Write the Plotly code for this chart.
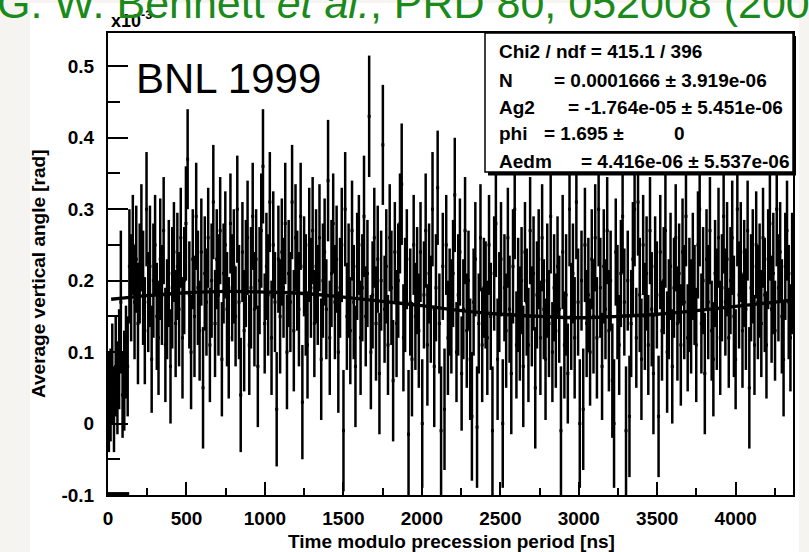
import plotly.graph_objects as go

# ---------------- data (units of 1e-3 rad, time in ns) ----------------
period_ns = 4365.0
n_bins = 400

angle = [
    0.03, 0.04, 0.07, 0.02, 0.08, 0.05, 0.09, 0.17, 0.04, 0.06, 0.10, 0.08, 0.22, 0.19, 0.25, 0.17, 0.23, 0.14, 0.21, 0.26,
    0.19, 0.13, 0.30, 0.17, 0.22, 0.09, 0.20, 0.25, 0.15, 0.12, 0.23, 0.18, 0.27, 0.11, 0.16, 0.21, 0.08, 0.19, 0.24, 0.14,
    0.22, 0.16, 0.26, 0.12, 0.20, 0.28, 0.37, 0.18, 0.10, 0.23, 0.15, 0.29, 0.19, 0.13, 0.24, 0.05, 0.21, 0.17, 0.26, 0.11,
    0.20, 0.31, 0.14, 0.23, 0.18, 0.27, 0.09, 0.21, 0.25, 0.16, 0.12, 0.28, 0.19, 0.22, 0.15, 0.30, 0.17, 0.04, 0.24, 0.13,
    0.21, 0.26, 0.11, 0.19, 0.29, 0.16, 0.23, 0.08, 0.20, 0.27, 0.36, 0.14, 0.22, 0.18, 0.31, 0.12, 0.25, 0.17, 0.02, 0.23,
    0.15, 0.24, 0.19, 0.28, 0.10, 0.21, 0.17, 0.31, 0.13, 0.26, 0.20, 0.16, 0.29, 0.03, 0.22, 0.18, 0.11, 0.25, 0.19, 0.27,
    0.14, 0.22, 0.18, 0.26, 0.09, 0.20, 0.24, 0.16, 0.34, 0.12, 0.21, 0.28, 0.17, 0.23, 0.10, 0.19, 0.25, -0.01, 0.30, 0.15,
    0.20, 0.13, 0.27, 0.17, 0.08, 0.22, 0.25, 0.12, 0.19, 0.29, 0.15, 0.21, 0.43, 0.10, 0.18, 0.26, 0.14, 0.23, 0.07, 0.20,
    0.39, 0.16, 0.22, 0.11, 0.26, 0.19, 0.06, 0.24, 0.14, 0.20, 0.28, 0.335, 0.12, 0.18, 0.23, -0.015, 0.17, 0.09, 0.25, 0.15,
    0.20, 0.13, 0.24, 0.00, 0.18, 0.27, 0.11, 0.21, 0.16, 0.30, 0.08, 0.19, 0.33, 0.14, -0.01, 0.22, 0.02, 0.25, 0.12, 0.17,
    0.15, 0.21, 0.32, 0.10, 0.18, 0.24, 0.07, 0.16, 0.27, 0.13, 0.20, 0.09, 0.01, 0.17, 0.23, -0.005, 0.14, 0.26, 0.11, 0.19,
    0.18, 0.12, 0.25, 0.15, -0.01, 0.21, 0.28, 0.09, 0.17, 0.23, 0.00, 0.19, 0.13, 0.26, 0.16, 0.07, 0.22, 0.30, 0.11, 0.18,
    0.14, 0.20, 0.08, 0.24, 0.17, 0.11, 0.27, 0.15, 0.21, 0.05, 0.18, 0.23, 0.12, 0.26, 0.16, 0.09, 0.20, 0.14, 0.29, 0.10,
    0.19, 0.13, 0.22, 0.16, -0.01, 0.24, 0.11, 0.18, 0.07, 0.30, 0.15, 0.21, 0.12, 0.31, 0.17, 0.00, 0.20, 0.02, 0.25, 0.14,
    0.18, 0.10, 0.23, 0.15, 0.26, 0.12, 0.30, 0.19, 0.08, 0.22, 0.16, 0.27, 0.13, 0.20, 0.06, 0.00, 0.24, 0.17, 0.11, 0.21,
    0.29, 0.17, -0.01, 0.20, 0.01, 0.14, 0.23, 0.30, 0.12, 0.31, 0.18, 0.09, 0.25, 0.15, 0.21, 0.11, 0.27, 0.16, 0.07, 0.22,
    0.18, 0.01, 0.24, 0.13, 0.20, 0.27, 0.10, 0.16, 0.22, 0.08, 0.19, 0.26, 0.14, 0.21, 0.11, 0.24, 0.17, 0.29, 0.12, 0.18,
    0.15, 0.22, 0.18, 0.11, 0.25, 0.30, 0.14, 0.20, 0.07, 0.23, 0.17, 0.27, 0.13, 0.09, 0.21, 0.16, 0.26, 0.12, 0.19, 0.29,
    0.17, 0.23, 0.12, 0.20, 0.26, 0.15, 0.09, 0.30, 0.18, 0.24, 0.13, 0.21, 0.16, 0.27, 0.05, 0.19, 0.22, 0.11, 0.25, 0.17,
    0.20, 0.14, 0.26, 0.18, 0.11, 0.23, 0.28, 0.16, 0.21, 0.13, 0.30, 0.19, 0.24, 0.15, 0.09, 0.22, 0.27, 0.17, 0.12, 0.21,
]

angle_err = [
    0.07, 0.065, 0.07, 0.06, 0.07, 0.065, 0.07, 0.10, 0.06, 0.07, 0.065, 0.07, 0.08, 0.075, 0.07, 0.08, 0.075, 0.085, 0.07, 0.075,
    0.08, 0.075, 0.08, 0.07, 0.085, 0.075, 0.08, 0.07, 0.075, 0.08, 0.085, 0.07, 0.075, 0.08, 0.07, 0.075, 0.08, 0.085, 0.07, 0.075,
    0.075, 0.08, 0.07, 0.085, 0.075, 0.08, 0.07, 0.075, 0.08, 0.07, 0.085, 0.075, 0.08, 0.07, 0.075, 0.085, 0.08, 0.075, 0.07, 0.08,
    0.08, 0.08, 0.075, 0.07, 0.085, 0.075, 0.08, 0.07, 0.075, 0.08, 0.085, 0.07, 0.075, 0.08, 0.07, 0.075, 0.08, 0.08, 0.07, 0.085,
    0.075, 0.08, 0.07, 0.085, 0.075, 0.08, 0.07, 0.085, 0.075, 0.08, 0.08, 0.07, 0.075, 0.085, 0.07, 0.08, 0.075, 0.07, 0.08, 0.075,
    0.08, 0.075, 0.07, 0.085, 0.08, 0.075, 0.07, 0.08, 0.085, 0.075, 0.07, 0.08, 0.075, 0.08, 0.07, 0.085, 0.075, 0.08, 0.07, 0.075,
    0.075, 0.08, 0.07, 0.075, 0.085, 0.08, 0.075, 0.07, 0.085, 0.08, 0.075, 0.07, 0.08, 0.075, 0.085, 0.07, 0.08, 0.085, 0.08, 0.075,
    0.08, 0.075, 0.07, 0.08, 0.085, 0.075, 0.07, 0.08, 0.075, 0.085, 0.07, 0.075, 0.085, 0.08, 0.075, 0.07, 0.08, 0.075, 0.085, 0.07,
    0.084, 0.075, 0.08, 0.07, 0.075, 0.08, 0.085, 0.07, 0.075, 0.08, 0.07, 0.085, 0.075, 0.08, 0.07, 0.09, 0.075, 0.08, 0.07, 0.075,
    0.075, 0.08, 0.07, 0.09, 0.075, 0.08, 0.085, 0.07, 0.075, 0.08, 0.085, 0.075, 0.08, 0.07, 0.09, 0.075, 0.085, 0.07, 0.08, 0.075,
    0.08, 0.075, 0.08, 0.07, 0.085, 0.075, 0.08, 0.07, 0.075, 0.08, 0.07, 0.085, 0.09, 0.075, 0.08, 0.085, 0.07, 0.075, 0.08, 0.07,
    0.075, 0.08, 0.07, 0.075, 0.09, 0.08, 0.075, 0.085, 0.07, 0.08, 0.09, 0.075, 0.08, 0.07, 0.075, 0.085, 0.08, 0.07, 0.075, 0.08,
    0.08, 0.075, 0.085, 0.07, 0.075, 0.08, 0.075, 0.07, 0.08, 0.085, 0.075, 0.07, 0.08, 0.075, 0.07, 0.085, 0.08, 0.075, 0.08, 0.07,
    0.075, 0.08, 0.07, 0.075, 0.09, 0.08, 0.075, 0.085, 0.07, 0.08, 0.075, 0.07, 0.085, 0.08, 0.075, 0.09, 0.07, 0.085, 0.08, 0.075,
    0.08, 0.075, 0.07, 0.08, 0.075, 0.085, 0.08, 0.07, 0.075, 0.08, 0.07, 0.075, 0.085, 0.07, 0.08, 0.09, 0.075, 0.08, 0.07, 0.075,
    0.08, 0.075, 0.09, 0.07, 0.085, 0.075, 0.08, 0.08, 0.07, 0.075, 0.08, 0.085, 0.07, 0.075, 0.08, 0.07, 0.075, 0.08, 0.085, 0.07,
    0.075, 0.085, 0.08, 0.07, 0.075, 0.08, 0.085, 0.07, 0.075, 0.08, 0.07, 0.075, 0.08, 0.07, 0.085, 0.075, 0.08, 0.07, 0.075, 0.08,
    0.08, 0.075, 0.07, 0.08, 0.075, 0.08, 0.07, 0.075, 0.085, 0.07, 0.08, 0.075, 0.07, 0.08, 0.075, 0.085, 0.07, 0.08, 0.075, 0.08,
    0.075, 0.08, 0.07, 0.075, 0.08, 0.085, 0.07, 0.08, 0.075, 0.07, 0.08, 0.075, 0.085, 0.07, 0.085, 0.075, 0.08, 0.07, 0.075, 0.08,
    0.08, 0.075, 0.07, 0.08, 0.075, 0.07, 0.08, 0.075, 0.085, 0.07, 0.08, 0.075, 0.07, 0.08, 0.08, 0.075, 0.07, 0.08, 0.075, 0.085,
]

# fitted curve
fit_t = [20, 250, 500, 750, 1000, 1250, 1500, 1750, 2000, 2250, 2500, 2750,
         3000, 3250, 3500, 3750, 4000, 4250, 4365]
fit_y = [0.174, 0.179, 0.183, 0.185, 0.184, 0.182, 0.177, 0.171, 0.165, 0.158,
         0.153, 0.150, 0.148, 0.150, 0.153, 0.158, 0.164, 0.170, 0.173]

# short segment lying on the bottom edge at the start
low_t = [0, 135]
low_y = [-0.098, -0.098]

x_ticks = [0, 500, 1000, 1500, 2000, 2500, 3000, 3500, 4000]
x_tick_text = ["0", "500", "1000", "1500", "2000", "2500", "3000", "3500", "4000"]
y_ticks = [-0.1, 0, 0.1, 0.2, 0.3, 0.4, 0.5]
y_tick_text = ["-0.1", "0", "0.1", "0.2", "0.3", "0.4", "0.5"]

stats_rows = [
    ("N", "= 0.0001666 \u00b1 3.919e-06"),
    ("Ag2", "= -1.764e-05 \u00b1 5.451e-06"),
    ("phi", "= 1.695 \u00b1"),
    ("Aedm", "= 4.416e-06 \u00b1 5.537e-06"),
]
phi_err_text = "0"
chi2_text = "Chi2 / ndf = 415.1 / 396"

assert len(angle) == n_bins and len(angle_err) == n_bins

bin_w = period_ns / n_bins
t_centers = [(i + 0.5) * bin_w for i in range(n_bins)]

# ---------------- layout geometry (pixels) ----------------
W_FIG, H_FIG = 809, 552
L, R, T, B = 108, 793, 33, 495
PW, PH = R - L, B - T


def px(x):
    return (x - L) / PW


def py(y):
    return (B - y) / PH


FONT = "Liberation Sans, Arial, Helvetica, sans-serif"
BOLD = dict(family=FONT, size=19, color="black", weight="bold")

fig = go.Figure()

fig.add_trace(go.Scatter(
    x=t_centers, y=angle, mode="markers",
    marker=dict(size=3, color="black", symbol="square"),
    error_y=dict(type="data", array=angle_err, color="black", thickness=2.5, width=0),
    error_x=dict(type="constant", value=bin_w / 2, color="black", thickness=2.5, width=0),
    hoverinfo="skip", showlegend=False,
))
fig.add_trace(go.Scatter(
    x=low_t, y=low_y, mode="lines", line=dict(color="black", width=3),
    hoverinfo="skip", showlegend=False,
))
fig.add_trace(go.Scatter(
    x=fit_t, y=fit_y, mode="lines", line=dict(color="black", width=3.4, shape="spline"),
    hoverinfo="skip", showlegend=False,
))

shapes = [
    # white slide area
    dict(type="rect", xref="paper", yref="paper", layer="below",
         x0=px(30), x1=px(799), y0=py(3), y1=py(560),
         fillcolor="white", line=dict(width=0)),
    # stats box shadow
    dict(type="rect", xref="paper", yref="paper", layer="above",
         x0=px(488), x1=px(796), y0=py(175.5), y1=py(36),
         fillcolor="black", line=dict(width=0)),
    # stats box
    dict(type="rect", xref="paper", yref="paper", layer="above",
         x0=px(485), x1=px(793), y0=py(172), y1=py(33),
         fillcolor="white", line=dict(color="black", width=1.5)),
]

ann = []


def add_text(text, x, y, xanchor="left", size=19, bold=True, color="black", yanchor="middle", **kw):
    f = dict(family=FONT, size=size, color=color)
    if bold:
        f["weight"] = "bold"
    ann.append(dict(text=text, x=px(x), y=py(y), xref="paper", yref="paper",
                    xanchor=xanchor, yanchor=yanchor, showarrow=False, font=f, **kw))


# stats box text
add_text(chi2_text, 497, 51)
row_y = [80, 107, 133, 161]
eq_x = [552, 566, 542, 579]
for (name, rest), yy, ex in zip(stats_rows, row_y, eq_x):
    add_text(name, 497, yy)
    add_text(rest, ex, yy)
add_text(phi_err_text, 672, 133)

# big labels
add_text("BNL 1999", 134, 79, size=42, bold=False)
add_text("x10<sup>-3</sup>", 109, 20, size=18)
add_text("Time modulo precession period [ns]", 451, 541, xanchor="center", size=19)
add_text("Average vertical angle [rad]", 38, 274, xanchor="center", size=19, textangle=-90)
add_text("G. W. Bennett <i>et al.</i>, PRD 80, 052008 (2009)", -5, 3, size=43, bold=False,
         color="#1a8a1a")

fig.update_layout(
    width=W_FIG, height=H_FIG,
    margin=dict(l=L, r=W_FIG - R, t=T, b=H_FIG - B, pad=0),
    paper_bgcolor="#f5f4f0", plot_bgcolor="white",
    shapes=shapes, annotations=ann, showlegend=False,
    xaxis=dict(range=[0, period_ns], showgrid=False, zeroline=False,
               showline=True, linecolor="black", linewidth=2, mirror=True,
               ticks="inside", ticklen=13, tickwidth=2, tickcolor="black",
               tickvals=x_ticks, ticktext=x_tick_text, tickfont=BOLD, ticklabelstandoff=5,
               minor=dict(ticks="inside", ticklen=7, tickwidth=2, tickcolor="black",
                          dtick=250, tick0=0, showgrid=False)),
    yaxis=dict(range=[-0.1, 0.5466], showgrid=False, zeroline=False,
               showline=True, linecolor="black", linewidth=2, mirror=True,
               ticks="inside", ticklen=20, tickwidth=2, tickcolor="black",
               tickvals=y_ticks, ticktext=y_tick_text, tickfont=BOLD, ticklabelstandoff=8,
               minor=dict(ticks="inside", ticklen=12, tickwidth=2, tickcolor="black",
                          dtick=0.05, tick0=0, showgrid=False)),
)

fig.write_html("out.html")
